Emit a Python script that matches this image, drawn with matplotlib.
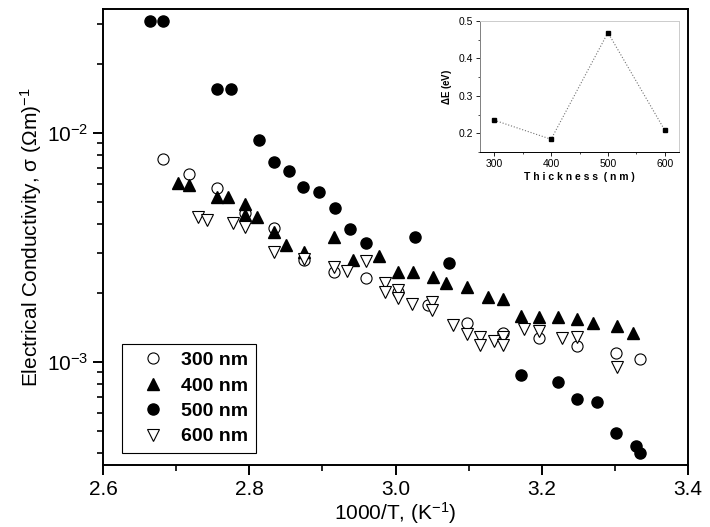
import numpy as np
import matplotlib
matplotlib.use("Agg")
from matplotlib import pyplot as plt
from matplotlib.ticker import LogLocator, FuncFormatter, MultipleLocator, NullFormatter

plt.rcParams['font.family'] = ['Liberation Sans', 'DejaVu Sans']
plt.rcParams['mathtext.default'] = 'regular'

# conductivity vs 1000/T for each film thickness
x_300 = [2.682, 2.718, 2.756, 2.794, 2.834, 2.875, 2.916, 2.960, 3.004, 3.045,
         3.098, 3.147, 3.196, 3.248, 3.302, 3.335]
s_300 = [0.00770, 0.00662, 0.00575, 0.00448, 0.00385, 0.00279, 0.00247, 0.00233,
         0.00202, 0.00177, 0.00148, 0.00134, 0.00127, 0.00117, 0.00109, 0.00103]

x_400 = [2.703, 2.718, 2.756, 2.771, 2.794, 2.794, 2.811, 2.834, 2.850, 2.875,
         2.916, 2.942, 2.978, 3.004, 3.024, 3.051, 3.069, 3.098, 3.127, 3.147,
         3.172, 3.196, 3.222, 3.248, 3.270, 3.303, 3.325]
s_400 = [0.00605, 0.00593, 0.00526, 0.00526, 0.00490, 0.00438, 0.00430, 0.00370,
         0.00324, 0.00302, 0.00351, 0.00279, 0.00290, 0.00247, 0.00247, 0.00235,
         0.00221, 0.00213, 0.00192, 0.00188, 0.00159, 0.00157, 0.00157, 0.00154,
         0.00148, 0.00144, 0.00134]

x_500 = [2.664, 2.682, 2.756, 2.775, 2.813, 2.834, 2.854, 2.874, 2.895, 2.917,
         2.938, 2.960, 3.027, 3.073, 3.172, 3.222, 3.248, 3.276, 3.302, 3.329, 3.335]
s_500 = [0.0308, 0.0308, 0.0156, 0.0156, 0.0093, 0.0075, 0.0068, 0.0058, 0.0055,
         0.0047, 0.0038, 0.0033, 0.0035, 0.0027, 0.00088, 0.00082, 0.00069,
         0.00067, 0.00049, 0.00043, 0.00040]

x_600 = [2.730, 2.742, 2.778, 2.794, 2.834, 2.875, 2.916, 2.934, 2.960, 2.986,
         2.986, 3.004, 3.004, 3.023, 3.050, 3.050, 3.079, 3.098, 3.116, 3.116,
         3.135, 3.147, 3.147, 3.176, 3.196, 3.228, 3.248, 3.303]
s_600 = [0.00430, 0.00417, 0.00404, 0.00389, 0.00302, 0.00282, 0.00260, 0.00249,
         0.00276, 0.00221, 0.00202, 0.00206, 0.00190, 0.00179, 0.00183, 0.00169,
         0.00145, 0.00133, 0.00129, 0.00119, 0.00124, 0.00129, 0.00119, 0.00139,
         0.00137, 0.00127, 0.00129, 0.00095]

# activation energy vs thickness (inset)
thickness = [300, 400, 500, 600]
delta_e = [0.235, 0.184, 0.469, 0.208]

fig = plt.figure(figsize=(7.1, 5.27), dpi=100)
ax = fig.add_axes([103 / 710, 1 - 465 / 527, 585 / 710, 456 / 527])

ms = 8
ax.plot(x_300, s_300, 'o', ms=ms, mfc='white', mec='black', mew=0.8, label='300 nm')
ax.plot(x_400, s_400, '^', ms=ms + 1, mfc='black', mec='black', label='400 nm')
ax.plot(x_500, s_500, 'o', ms=ms, mfc='black', mec='black', label='500 nm')
ax.plot(x_600, s_600, 'v', ms=ms + 1, mfc='white', mec='black', mew=0.8, label='600 nm')

ax.set_yscale('log')
ax.set_xlim(2.6, 3.4)
ax.set_ylim(3.55e-4, 0.0348)
ax.xaxis.set_major_locator(MultipleLocator(0.2))
ax.xaxis.set_minor_locator(MultipleLocator(0.1))
ax.xaxis.set_major_formatter(FuncFormatter(lambda v, p: f'{v:.1f}'))
ax.yaxis.set_major_locator(LogLocator(base=10))
ax.yaxis.set_minor_locator(LogLocator(base=10, subs=np.arange(2, 10)))
ax.yaxis.set_minor_formatter(NullFormatter())
ax.yaxis.set_major_formatter(FuncFormatter(
    lambda v, p: r'$10^{%d}$' % int(round(np.log10(v)))))

for s in ax.spines.values():
    s.set_linewidth(1.4)
ax.tick_params(which='major', direction='out', length=7, width=1.4, labelsize=15)
ax.tick_params(which='minor', direction='out', length=4, width=1.2)

ax.set_xlabel(r'1000/T, (K$^{-1}$)', fontsize=15, labelpad=1)
ax.set_ylabel(r'Electrical Conductivity, $\sigma$ ($\Omega$m)$^{-1}$', fontsize=15,
              labelpad=2)

leg = ax.legend(loc='lower left', bbox_to_anchor=(0.032, 0.026), borderaxespad=0,
                fancybox=False, edgecolor='black', framealpha=1,
                prop={'weight': 'bold', 'size': 14}, handletextpad=0.25,
                labelspacing=0.4, borderpad=0.4, handlelength=2.4)
leg.get_frame().set_linewidth(0.8)

# inset: activation energy
ins = fig.add_axes([480 / 710, 1 - 152 / 527, 199 / 710, 131 / 527])
ins.plot(thickness, delta_e, ':', color='0.45', lw=0.8, marker='s', ms=2.5,
         mfc='black', mec='black')
ins.set_xlim(275, 625)
ins.set_ylim(0.15, 0.5)
ins.xaxis.set_major_locator(MultipleLocator(100))
ins.xaxis.set_minor_locator(MultipleLocator(50))
ins.yaxis.set_major_locator(MultipleLocator(0.1))
ins.yaxis.set_minor_locator(MultipleLocator(0.05))
ins.yaxis.set_major_formatter(FuncFormatter(lambda v, p: f'{v:.1f}'))
ins.tick_params(which='major', direction='out', length=3, width=0.6, labelsize=7.5,
                pad=2)
ins.tick_params(which='minor', direction='out', length=1.5, width=0.5)
ins.spines['top'].set_color('0.8')
ins.spines['right'].set_color('0.8')
ins.spines['left'].set_color('0.5')
for s in ins.spines.values():
    s.set_linewidth(0.7)
ins.set_xlabel('T h i c k n e s s  ( n m )', fontsize=7.5, fontweight='bold', labelpad=2)
ins.set_ylabel(r'$\Delta$E (eV)', fontsize=7, fontweight='bold', labelpad=3)

fig.savefig('out.png', dpi=100)
